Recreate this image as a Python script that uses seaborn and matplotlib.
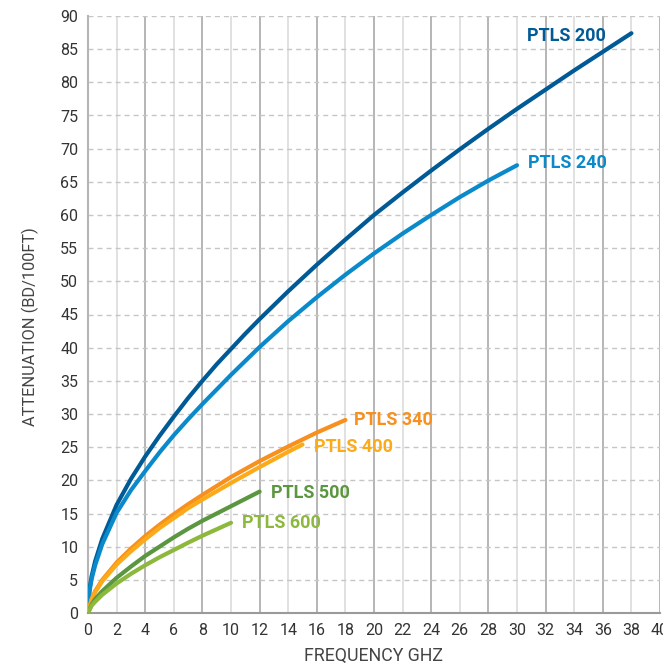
import numpy as np
import pandas as pd
import matplotlib
matplotlib.use("Agg")
import matplotlib.pyplot as plt
import seaborn as sns

# values (frequency GHz -> attenuation dB/100ft)
f_200 = [0, 0.1, 0.25, 0.5, 1, 2, 3, 4, 5, 6, 7, 8, 9, 10, 11, 12, 14, 16, 18, 20, 22, 24, 26, 28, 30, 32, 34, 36, 38]
a_200 = [0, 3.5, 5.5, 7.8, 11.2, 16.3, 20.2, 23.6, 26.7, 29.6, 32.4, 35.0, 37.5, 39.8, 42.1, 44.3, 48.5, 52.5,
         56.3, 60.0, 63.4, 66.7, 69.9, 73.0, 76.0, 78.9, 81.8, 84.6, 87.4]

f_240 = [0, 0.1, 0.25, 0.5, 1, 2, 3, 4, 5, 6, 7, 8, 9, 10, 11, 12, 14, 16, 18, 20, 22, 24, 26, 28, 30]
a_240 = [0, 3.2, 5.1, 7.2, 10.4, 15.1, 18.5, 21.4, 24.2, 26.8, 29.2, 31.5, 33.7, 35.9, 38.0, 40.1, 44.0, 47.6,
         51.0, 54.2, 57.2, 60.0, 62.7, 65.2, 67.5]

f_340 = [0, 0.25, 0.5, 1, 2, 3, 4, 5, 6, 7, 8, 10, 12, 14, 16, 18]
a_340 = [0, 2.1, 3.3, 5.0, 7.6, 9.7, 11.6, 13.3, 14.9, 16.4, 17.8, 20.5, 22.9, 25.1, 27.2, 29.1]

f_400 = [0, 0.25, 0.5, 1, 2, 3, 4, 5, 6, 7, 8, 10, 12, 14, 15]
a_400 = [0, 2.0, 3.1, 4.8, 7.3, 9.3, 11.1, 12.8, 14.3, 15.8, 17.1, 19.6, 22.0, 24.3, 25.4]

f_500 = [0, 0.25, 0.5, 1, 2, 3, 4, 5, 6, 7, 8, 10, 12]
a_500 = [0, 1.3, 2.1, 3.3, 5.3, 7.0, 8.6, 10.0, 11.4, 12.7, 13.9, 16.1, 18.3]

f_600 = [0, 0.25, 0.5, 1, 2, 3, 4, 5, 6, 7, 8, 10]
a_600 = [0, 1.1, 1.7, 2.75, 4.45, 5.9, 7.2, 8.4, 9.5, 10.6, 11.65, 13.6]

names = ["PTLS 200", "PTLS 240", "PTLS 340", "PTLS 400", "PTLS 500", "PTLS 600"]
colors = ["#005a96", "#0a8acb", "#f7901e", "#fbab1a", "#5b9640", "#8cb83c"]
label_pos = [(30.7, 87.0), (30.8, 67.8), (18.6, 29.1), (15.8, 25.0), (12.8, 18.1), (10.8, 13.6)]

x_ticks = list(range(0, 41, 2))
y_ticks = list(range(0, 91, 5))

series = [(f_200, a_200), (f_240, a_240), (f_340, a_340),
          (f_400, a_400), (f_500, a_500), (f_600, a_600)]
frames = []
for name, (fx, ay) in zip(names, series):
    frames.append(pd.DataFrame({"freq": fx, "atten": ay, "cable": name}))
df = pd.concat(frames, ignore_index=True)

sns.set_style("white")
plt.rcParams['font.family'] = ['Roboto', 'DejaVu Sans']

fig = plt.figure(figsize=(6.63, 6.68), dpi=100)
ax = fig.add_axes([88 / 663, 55 / 668, 572 / 663, 597 / 668])

# grid: vertical lines, darker every 4 GHz
for xv in x_ticks[1:]:
    c = "#a9a9a9" if xv % 4 == 0 else "#dcdcdc"
    ax.axvline(xv, color=c, lw=1.2, zorder=0)
for yv in y_ticks[1:]:
    ax.axhline(yv, color="#c6c6c6", lw=1.0, ls=(0, (3.6, 2.9)), zorder=0.5)

sns.lineplot(data=df, x="freq", y="atten", hue="cable", palette=dict(zip(names, colors)),
             sort=False, estimator=None, lw=3, legend=False, ax=ax, zorder=3)

for name, c, (lx, ly) in zip(names, colors, label_pos):
    ax.text(lx, ly, name, color=c, fontsize=13, fontweight="bold",
            ha="left", va="center", zorder=4)

ax.set_xlim(0, 40)
ax.set_ylim(0, 90)
ax.set_xticks(x_ticks)
ax.set_yticks(y_ticks)
ax.tick_params(length=0, pad=7, labelsize=11.5, labelcolor="#333333")

ax.set_xlabel("FREQUENCY GHZ", fontsize=12.8, color="#444444", labelpad=7)
ax.set_ylabel("ATTENUATION (BD/100FT)", fontsize=11.8, color="#444444", labelpad=10)
ax.yaxis.set_label_coords(-0.085, 0.48)

for s in ["top", "right"]:
    ax.spines[s].set_visible(False)
ax.spines["left"].set_color("#b5b5b5")
ax.spines["left"].set_linewidth(1.5)
ax.spines["bottom"].set_color("#9a9a9a")
ax.spines["bottom"].set_linewidth(1.5)

fig.savefig("out.png", dpi=100)
plt.close(fig)
